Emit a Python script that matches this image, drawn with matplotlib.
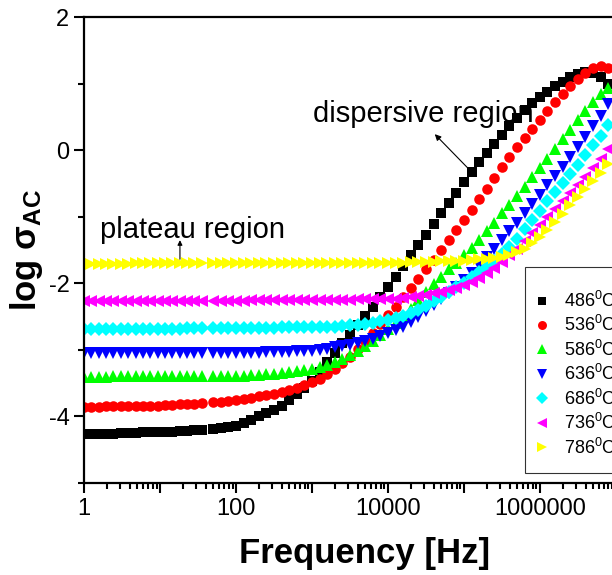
import numpy as np
import matplotlib
matplotlib.use('Agg')
import matplotlib.pyplot as plt
from matplotlib.ticker import LogLocator, FuncFormatter, MultipleLocator, NullFormatter

plt.rcParams['font.family'] = ['Liberation Sans', 'DejaVu Sans']
plt.rcParams['mathtext.default'] = 'regular'
plt.rcParams['axes.unicode_minus'] = False

# frequency grid: low range 1..~35 Hz, then 50 Hz .. ~8 MHz at 10 points per decade
log_f = np.concatenate([np.linspace(0.0, 1.55, 17), np.round(np.arange(1.7, 6.95, 0.1), 1)])
freq = 10 ** log_f

temps = ['486', '536', '586', '636', '686', '736', '786']

# log(sigma_AC) for each temperature
s486 = [-4.27, -4.27, -4.26, -4.26, -4.26, -4.25, -4.25, -4.25, -4.24, -4.24,
        -4.24, -4.23, -4.23, -4.22, -4.22, -4.21, -4.20, -4.19, -4.18, -4.16,
        -4.14, -4.10, -4.05, -4.00, -3.95, -3.90, -3.84, -3.76, -3.67, -3.57,
        -3.47, -3.33, -3.18, -3.04, -2.90, -2.78, -2.63, -2.49, -2.35, -2.20,
        -2.05, -1.90, -1.74, -1.58, -1.43, -1.27, -1.11, -0.95, -0.80, -0.64,
        -0.48, -0.33, -0.18, -0.04, 0.10, 0.23, 0.36, 0.48, 0.60, 0.71,
        0.80, 0.88, 0.96, 1.03, 1.10, 1.15, 1.17, 1.16, 1.10, 1.00]
s536 = [-3.86, -3.86, -3.86, -3.85, -3.85, -3.85, -3.85, -3.84, -3.84, -3.84,
        -3.84, -3.83, -3.83, -3.82, -3.82, -3.81, -3.80, -3.79, -3.78, -3.77,
        -3.76, -3.74, -3.72, -3.70, -3.68, -3.66, -3.63, -3.60, -3.57, -3.53,
        -3.49, -3.44, -3.37, -3.29, -3.20, -3.10, -2.98, -2.86, -2.74, -2.61,
        -2.48, -2.35, -2.21, -2.07, -1.93, -1.79, -1.65, -1.50, -1.35, -1.20,
        -1.05, -0.90, -0.74, -0.58, -0.42, -0.26, -0.11, 0.04, 0.18, 0.32,
        0.46, 0.59, 0.72, 0.84, 0.96, 1.07, 1.16, 1.23, 1.26, 1.24]
s586 = [-3.41, -3.41, -3.41, -3.41, -3.40, -3.40, -3.40, -3.40, -3.40, -3.40,
        -3.40, -3.40, -3.40, -3.40, -3.40, -3.40, -3.39, -3.39, -3.39, -3.39,
        -3.39, -3.39, -3.38, -3.38, -3.37, -3.36, -3.35, -3.34, -3.32, -3.30,
        -3.28, -3.25, -3.22, -3.18, -3.13, -3.08, -3.01, -2.94, -2.86, -2.77,
        -2.68, -2.59, -2.50, -2.38, -2.25, -2.13, -2.01, -1.90, -1.79, -1.69,
        -1.58, -1.47, -1.35, -1.22, -1.09, -0.95, -0.82, -0.69, -0.55, -0.41,
        -0.27, -0.13, 0.02, 0.17, 0.31, 0.45, 0.59, 0.72, 0.84, 0.93]
s636 = [-3.05, -3.05, -3.05, -3.05, -3.05, -3.04, -3.04, -3.04, -3.04, -3.04,
        -3.04, -3.04, -3.04, -3.04, -3.04, -3.04, -3.04, -3.04, -3.04, -3.04,
        -3.04, -3.04, -3.04, -3.04, -3.03, -3.03, -3.03, -3.03, -3.02, -3.02,
        -3.01, -3.00, -2.98, -2.96, -2.94, -2.92, -2.89, -2.86, -2.83, -2.79,
        -2.75, -2.70, -2.65, -2.58, -2.50, -2.42, -2.33, -2.24, -2.15, -2.05,
        -1.95, -1.85, -1.73, -1.61, -1.48, -1.35, -1.22, -1.09, -0.95, -0.81,
        -0.67, -0.53, -0.39, -0.25, -0.10, 0.05, 0.20, 0.36, 0.52, 0.70]
s686 = [-2.69, -2.69, -2.69, -2.68, -2.68, -2.68, -2.68, -2.68, -2.68, -2.68,
        -2.68, -2.68, -2.68, -2.68, -2.67, -2.67, -2.67, -2.67, -2.67, -2.67,
        -2.67, -2.67, -2.67, -2.67, -2.67, -2.67, -2.66, -2.66, -2.66, -2.66,
        -2.66, -2.66, -2.65, -2.65, -2.64, -2.63, -2.62, -2.61, -2.59, -2.57,
        -2.55, -2.52, -2.49, -2.45, -2.40, -2.34, -2.27, -2.20, -2.13, -2.06,
        -1.99, -1.91, -1.83, -1.75, -1.66, -1.56, -1.45, -1.33, -1.19, -1.05,
        -0.91, -0.77, -0.63, -0.50, -0.36, -0.22, -0.08, 0.07, 0.22, 0.38]
s736 = [-2.27, -2.27, -2.27, -2.27, -2.27, -2.26, -2.26, -2.26, -2.26, -2.26,
        -2.26, -2.26, -2.26, -2.26, -2.26, -2.26, -2.26, -2.26, -2.26, -2.26,
        -2.26, -2.26, -2.25, -2.25, -2.25, -2.25, -2.25, -2.25, -2.25, -2.25,
        -2.25, -2.25, -2.25, -2.25, -2.25, -2.25, -2.24, -2.24, -2.24, -2.24,
        -2.24, -2.23, -2.22, -2.21, -2.19, -2.17, -2.15, -2.13, -2.10, -2.07,
        -2.03, -1.98, -1.92, -1.85, -1.77, -1.68, -1.58, -1.48, -1.37, -1.25,
        -1.13, -1.01, -0.88, -0.76, -0.64, -0.52, -0.40, -0.27, -0.13, 0.02]
s786 = [-1.71, -1.71, -1.71, -1.71, -1.71, -1.71, -1.71, -1.70, -1.70, -1.70,
        -1.70, -1.70, -1.70, -1.70, -1.70, -1.70, -1.70, -1.70, -1.70, -1.70,
        -1.70, -1.70, -1.70, -1.70, -1.70, -1.70, -1.70, -1.70, -1.70, -1.70,
        -1.70, -1.70, -1.70, -1.70, -1.70, -1.69, -1.69, -1.69, -1.69, -1.69,
        -1.69, -1.69, -1.69, -1.68, -1.68, -1.68, -1.68, -1.67, -1.67, -1.67,
        -1.66, -1.65, -1.64, -1.63, -1.62, -1.60, -1.57, -1.53, -1.48, -1.40,
        -1.31, -1.20, -1.08, -0.96, -0.83, -0.71, -0.59, -0.47, -0.34, -0.21]

series = [s486, s536, s586, s636, s686, s736, s786]
colors = ['#000000', '#ff0000', '#00ff00', '#0000ff', '#00ffff', '#ff00ff', '#ffff00']
markers = ['s', 'o', '^', 'v', 'D', '<', '>']
msizes = [7.2, 7.6, 8.6, 8.6, 6.8, 8.6, 8.6]

fig = plt.figure(figsize=(6.12, 5.75), dpi=100)
# axes runs a bit past the right edge of the figure
ax = fig.add_axes([0.1373, 0.16, 0.869, 0.8104])

for t, s, c, m, ms in zip(temps, series, colors, markers, msizes):
    ax.plot(freq, s, linestyle='none', marker=m, ms=ms, color=c,
            markeredgewidth=0, label=t + r'$^{0}$C')

ax.set_xscale('log')
ax.set_xlim(1, 1e7)
ax.set_ylim(-5, 2)

ax.xaxis.set_major_locator(LogLocator(base=10, numticks=20))
ax.xaxis.set_minor_locator(LogLocator(base=10, subs=np.arange(2, 10), numticks=100))
ax.xaxis.set_major_formatter(FuncFormatter(
    lambda v, p: '%d' % round(v) if round(np.log10(v)) % 2 == 0 else ''))
ax.xaxis.set_minor_formatter(NullFormatter())
ax.yaxis.set_major_locator(MultipleLocator(2))
ax.yaxis.set_minor_locator(MultipleLocator(1))

ax.tick_params(which='both', direction='out', width=1.5, labelsize=17, top=False, right=False)
ax.tick_params(which='major', length=7)
ax.tick_params(which='minor', length=4)
for sp in ax.spines.values():
    sp.set_linewidth(1.6)

ax.set_xlabel('Frequency [Hz]', fontsize=25, fontweight='bold')
ax.xaxis.set_label_coords(0.528, -0.115)
ax.set_ylabel(r'log $\sigma_{AC}$', fontsize=25, fontweight='bold')
ax.yaxis.set_label_coords(-0.073, 0.5)

ax.text(1030, 0.42, 'dispersive region', fontsize=21)
ax.annotate('', xy=(3.9e4, 0.27), xytext=(1.27e5, -0.33),
            arrowprops=dict(arrowstyle='-|>', color='k', lw=0.8, mutation_scale=9))
ax.text(1.62, -1.32, 'plateau region', fontsize=21)
ax.annotate('', xy=(18.3, -1.31), xytext=(18.3, -1.68),
            arrowprops=dict(arrowstyle='-|>', color='k', lw=0.8, mutation_scale=7))

# a tiny blank title pushes the entries down inside the frame
leg = ax.legend(loc='lower left', bbox_to_anchor=(0.829, 0.021), fontsize=13,
                frameon=True, fancybox=False, borderpad=0.87, labelspacing=0.24,
                handlelength=0.2, handletextpad=1.1, borderaxespad=0,
                markerscale=0.85, title=' ', title_fontsize=3)
leg.get_frame().set_edgecolor('k')
leg.get_frame().set_linewidth(0.8)

fig.savefig('out.png', dpi=100)
